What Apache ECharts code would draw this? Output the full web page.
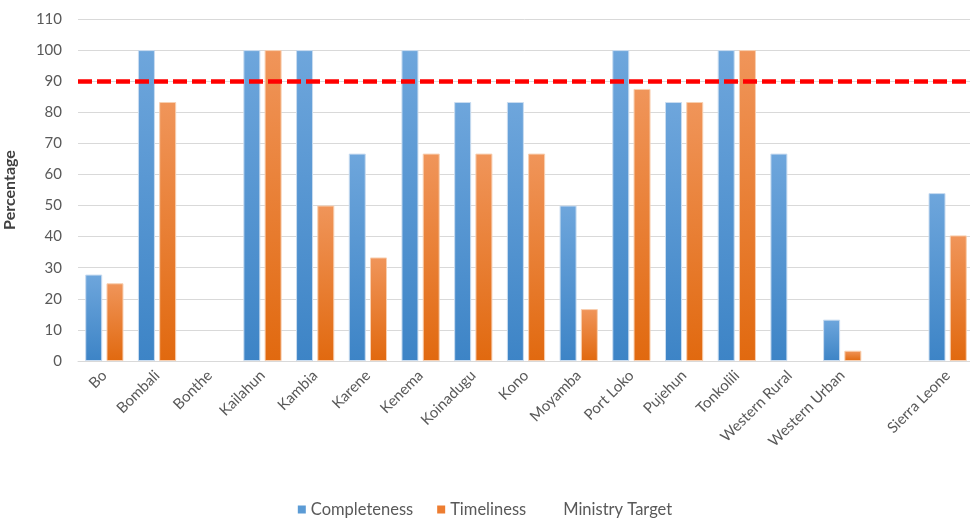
<!DOCTYPE html>
<html>
<head>
<meta charset="utf-8">
<script src="https://cdn.jsdelivr.net/npm/echarts@6/dist/echarts.min.js"></script>
<style>html,body{margin:0;padding:0;background:#fff;}#c{width:970px;height:521px;}</style>
</head>
<body>
<div id="c"></div>
<script>
var categories = ['Bo','Bombali','Bonthe','Kailahun','Kambia','Karene','Kenema','Koinadugu','Kono','Moyamba','Port Loko','Pujehun','Tonkolili','Western Rural','Western Urban','','Sierra Leone'];
var completeness = [27.8,100,0,100,100,66.7,100,83.3,83.3,50,100,83.3,100,66.7,13.3,null,54];
var timeliness = [25,83.3,0,100,50,33.3,66.7,66.7,66.7,16.7,87.5,83.3,100,0,3.3,null,40.4];
var ministryTarget = 90;
var yTicks = {min:0, max:110, interval:10};

var font = 'Lato, "Open Sans", sans-serif';
var chart = echarts.init(document.getElementById('c'));
function grad(top, bottom){
  return new echarts.graphic.LinearGradient(0,0,0,1,[{offset:0,color:top},{offset:1,color:bottom}]);
}
function noZeroBorder(arr){
  return arr.map(function(v){ return v === 0 ? {value:v, itemStyle:{borderWidth:0, opacity:0}} : v; });
}
chart.setOption({
  animation:false,
  backgroundColor:'#fff',
  grid:{left:78, right:-4, top:19, bottom:160, containLabel:false, outerBoundsMode:'none'},
  legend:{
    bottom:-2, left:'center',
    itemWidth:8, itemHeight:8, itemGap:24,
    itemStyle:{borderWidth:0},
    textStyle:{fontFamily:font, fontSize:16.5, color:'#595959'},
    data:[
      {name:'Completeness', icon:'rect', itemStyle:{color:'#5b9bd5', borderWidth:0}},
      {name:'Timeliness', icon:'rect', itemStyle:{color:'#ed7d31', borderWidth:0}},
      {name:'Ministry Target', icon:'rect', itemStyle:{color:'rgba(0,0,0,0)', opacity:0, borderWidth:0}}
    ]
  },
  xAxis:{
    type:'category', data:categories,
    axisLine:{show:true, lineStyle:{color:'#d9d9d9', width:1}},
    axisTick:{show:false},
    axisLabel:{rotate:45, interval:0, margin:12, fontFamily:font, fontSize:15, color:'#595959'}
  },
  yAxis:{
    type:'value', min:yTicks.min, max:yTicks.max, interval:yTicks.interval,
    name:'Percentage', nameLocation:'middle', nameGap:60, nameRotate:90,
    nameTextStyle:{fontFamily:font, fontSize:16, fontWeight:'bold', color:'#404040'},
    axisLine:{show:false}, axisTick:{show:false},
    axisLabel:{fontFamily:font, fontSize:15, color:'#595959', margin:16},
    splitLine:{lineStyle:{color:'#d9d9d9', width:1}}
  },
  series:[
    {name:'Completeness', type:'bar', data:noZeroBorder(completeness), barWidth:17, barGap:'25%',
     itemStyle:{color:grad('#6ea6dc','#3d84c6'), borderColor:'#c9dcf0', borderWidth:1}},
    {name:'Timeliness', type:'bar', data:noZeroBorder(timeliness), barWidth:17,
     itemStyle:{color:grad('#f0955a','#e1690f'), borderColor:'#f8cfb0', borderWidth:1}},
    {name:'Ministry Target', type:'line', data:[], symbol:'none',
     lineStyle:{color:'#ff0000'},
     markLine:{silent:true, symbol:'none', label:{show:false},
       lineStyle:{color:'#ff0000', width:4.5, type:[14,5]},
       data:[{yAxis:ministryTarget}]}}
  ]
});
</script>
</body>
</html>
